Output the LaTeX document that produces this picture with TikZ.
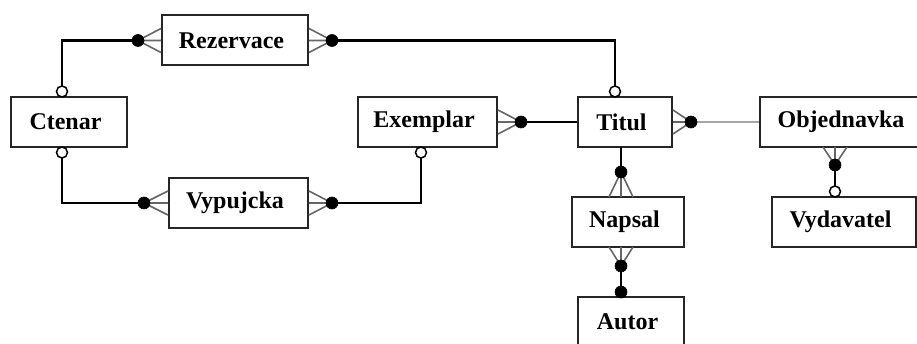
\documentclass[tikz,border=0pt]{standalone}
\usepackage{fontspec}
\setmainfont{Liberation Serif}
\begin{document}
\begin{tikzpicture}[x=1pt,y=-1pt,
  ent/.style={draw=black!85, line width=2pt, fill=white, minimum height=50pt,
    inner sep=0pt, font=\fontsize{24}{28}\selectfont\bfseries,
    execute at begin node={\hspace*{-7pt}}},
  rel/.style={line width=2.1pt, black},
  crow/.style={line width=1.6pt, black!60},
  dotend/.style={fill=black, draw=black, line width=0.6pt},
  ringend/.style={fill=white, draw=black, line width=1.5pt},
  lightrel/.style={line width=2.1pt, black!35}]
\useasboundingbox (0,0) rectangle (917,344);

% entities
\node[ent, minimum width=146pt] (rez) at (235,40.5) {Rezervace};
\node[ent, minimum width=116pt] (cte) at (69,122) {Ctenar};
\node[ent, minimum width=139pt] (exe) at (427.5,122) {Exemplar};
\node[ent, minimum width=94pt]  (tit) at (625,122) {Titul};
\node[ent, minimum width=169pt] (obj) at (844.5,122) {Objednavka};
\node[ent, minimum width=139pt] (vyp) at (238.5,203) {Vypujcka};
\node[ent, minimum width=112pt] (nap) at (628,222) {Napsal};
\node[ent, minimum width=144pt] (vyd) at (844,222) {Vydavatel};
\node[ent, minimum width=106pt] (aut) at (631,322) {Autor};

% relationship end points
\coordinate (r1) at (138,40.5);
\coordinate (r2) at (332,40.5);
\coordinate (c1) at (62,91.5);
\coordinate (c2) at (615,91.5);
\coordinate (c3) at (62,152.5);
\coordinate (v1) at (144,203);
\coordinate (v2) at (332,203);
\coordinate (c4) at (421,152.5);
\coordinate (e1) at (521,122);
\coordinate (t1) at (691,122);
\coordinate (o0) at (835,147);
\coordinate (o1) at (835,165);
\coordinate (c5) at (835,191.5);
\coordinate (tb) at (621,147);
\coordinate (n0) at (621,197);
\coordinate (n1) at (621,172);
\coordinate (nb) at (621,247);
\coordinate (n2) at (621,266);
\coordinate (a1) at (621,292);

% connector lines
\draw[rel] (r1) -| (c1);
\draw[rel] (r2) -| (c2);
\draw[rel] (c3) |- (v1);
\draw[rel] (v2) -| (c4);
\draw[rel] (e1) -- (tit.west);
\draw[lightrel] (t1) -- (obj.west);
\draw[rel] (o1) -- (c5);
\draw[rel] (tb) -- (n1);
\draw[rel] (n2) -- (a1);

% crow's feet (many side)
\draw[crow] (r1) -- (rez.west) (r1) -- ([yshift=12pt]rez.west) (r1) -- ([yshift=-12pt]rez.west);
\draw[crow] (r2) -- (rez.east) (r2) -- ([yshift=12pt]rez.east) (r2) -- ([yshift=-12pt]rez.east);
\draw[crow] (v1) -- (vyp.west) (v1) -- ([yshift=12pt]vyp.west) (v1) -- ([yshift=-12pt]vyp.west);
\draw[crow] (v2) -- (vyp.east) (v2) -- ([yshift=12pt]vyp.east) (v2) -- ([yshift=-12pt]vyp.east);
\draw[crow] (e1) -- (exe.east) (e1) -- ([yshift=12pt]exe.east) (e1) -- ([yshift=-12pt]exe.east);
\draw[crow] (t1) -- (tit.east) (t1) -- ([yshift=12pt]tit.east) (t1) -- ([yshift=-12pt]tit.east);
\draw[crow] (o1) -- (o0) (o1) -- ([xshift=12pt]o0) (o1) -- ([xshift=-12pt]o0);
\draw[crow] (n1) -- (n0) (n1) -- ([xshift=12pt]n0) (n1) -- ([xshift=-12pt]n0);
\draw[crow] (n2) -- (nb) (n2) -- ([xshift=12pt]nb) (n2) -- ([xshift=-12pt]nb);

% mandatory (filled) and optional (open) ends
\foreach \p in {r1,r2,v1,v2,e1,t1,o1,n1,n2,a1}
  \fill[dotend] (\p) circle (6pt);
\foreach \p in {c1,c2,c3,c4,c5}
  \filldraw[ringend] (\p) circle (5.5pt);
\end{tikzpicture}
\end{document}
